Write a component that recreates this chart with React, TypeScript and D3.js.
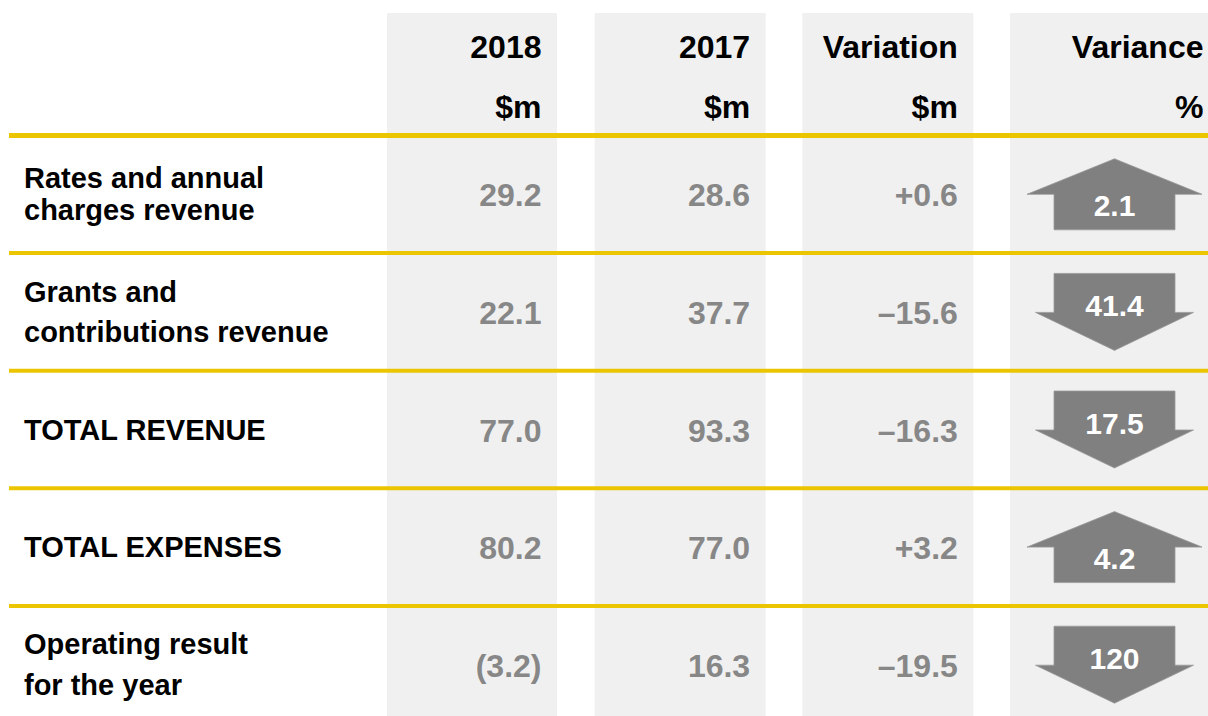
import React from "react";
import * as d3 from "d3";

const headerTop = ["2018", "2017", "Variation", "Variance"];
const headerUnit = ["$m", "$m", "$m", "%"];
const rowLabels = [
  ["Rates and annual", "charges revenue"],
  ["Grants and", "contributions revenue"],
  ["TOTAL REVENUE"],
  ["TOTAL EXPENSES"],
  ["Operating result", "for the year"],
];
const values2018 = [29.2, 22.1, 77.0, 80.2, -3.2];
const values2017 = [28.6, 37.7, 93.3, 77.0, 16.3];
const variation = [0.6, -15.6, -16.3, 3.2, -19.5];
const variancePct = [2.1, -41.4, -17.5, 4.2, -120];

// layout constants
const W = 1208;
const H = 716;
const labelLineGap = [32, 40, 0, 0, 41];
const YELLOW = "#ebc500";
const GRAY_BG = "#f0f0f0";
const VALUE_GRAY = "#878787";
const ARROW_GRAY = "#808080";
const FONT = "'Liberation Sans', Arial, Helvetica, sans-serif";

const fmt1 = d3.format(".1f");
const fmtPlain = (v: number) => (v < 0 ? `(${fmt1(-v)})` : fmt1(v));
const fmtSigned = (v: number) => (v < 0 ? `\u2013${fmt1(-v)}` : `+${fmt1(v)}`);
const fmtPct = (v: number) => (Math.abs(v) >= 100 ? d3.format(".0f")(Math.abs(v)) : fmt1(Math.abs(v)));

export default function App() {
  const colIdx = d3.range(4);
  const colX = d3.scaleLinear().domain([0, 3]).range([387, 1010]);
  const colW = [170, 171, 171, 209];

  const rowIdx = d3.range(rowLabels.length);
  const y = d3.scaleLinear().domain([0, rowLabels.length]).range([135.5, 135.5 + 117.6 * rowLabels.length]);

  const columns: ((i: number) => string)[] = [
    (i) => fmtPlain(values2018[i]),
    (i) => fmtPlain(values2017[i]),
    (i) => fmtSigned(variation[i]),
  ];

  const arrowPath = (cx: number, cy: number, up: boolean) => {
    const p = d3.path();
    if (up) {
      p.moveTo(cx, cy - 35.5);
      p.lineTo(cx + 87.5, cy);
      p.lineTo(cx + 60.5, cy);
      p.lineTo(cx + 60.5, cy + 35.5);
      p.lineTo(cx - 60.5, cy + 35.5);
      p.lineTo(cx - 60.5, cy);
      p.lineTo(cx - 87.5, cy);
    } else {
      p.moveTo(cx - 60.5, cy - 38.5);
      p.lineTo(cx + 60.5, cy - 38.5);
      p.lineTo(cx + 60.5, cy + 0.5);
      p.lineTo(cx + 79, cy + 0.5);
      p.lineTo(cx, cy + 38.5);
      p.lineTo(cx - 79, cy + 0.5);
      p.lineTo(cx - 60.5, cy + 0.5);
    }
    p.closePath();
    return p.toString();
  };

  return (
    <svg
      width={W}
      height={H}
      style={{ position: "absolute", left: 0, top: 0, display: "block", background: "#fff" }}
      fontFamily={FONT}
      fontWeight="bold"
    >
      {colIdx.map((c) => (
        <rect key={"bg" + c} x={colX(c)} y={13} width={colW[c]} height={H - 13} fill={GRAY_BG} />
      ))}

      {colIdx.map((c) => (
        <g key={"h" + c} fontSize={32} fill="#000" textAnchor="end">
          <text x={colX(c) + colW[c] - 15.5} y={58}>{headerTop[c]}</text>
          <text x={colX(c) + colW[c] - 15.5} y={118}>{headerUnit[c]}</text>
        </g>
      ))}

      {d3.range(rowLabels.length + 1).map((r) => (
        <line
          key={"l" + r}
          x1={9}
          x2={W}
          y1={y(r)}
          y2={y(r)}
          stroke={YELLOW}
          strokeWidth={r === 0 ? 5 : 4}
        />
      ))}

      {rowIdx.map((r) => {
        const cy = (y(r) + y(r + 1)) / 2;
        const lines = rowLabels[r];
        const gap = labelLineGap[r];
        const mid = cy + 10;
        const up = variancePct[r] > 0;
        const cx = colX(3) + colW[3] / 2;
        return (
          <g key={"r" + r}>
            {lines.map((t, k) => (
              <text
                key={k}
                x={24}
                y={lines.length === 1 ? mid : mid - gap / 2 + k * gap}
                fontSize={29}
                fill="#000"
              >
                {t}
              </text>
            ))}
            {columns.map((f, c) => (
              <text
                key={"v" + c}
                x={colX(c) + colW[c] - 15.5}
                y={cy + 12}
                fontSize={32}
                fill={VALUE_GRAY}
                textAnchor="end"
              >
                {f(r)}
              </text>
            ))}
            <path d={arrowPath(cx, cy, up)} fill={ARROW_GRAY} stroke="#9a9a9a" strokeWidth={0.8} />
            <text
              x={cx}
              y={up ? cy + 22 : cy + 4}
              fontSize={30}
              fill="#fff"
              textAnchor="middle"
            >
              {fmtPct(variancePct[r])}
            </text>
          </g>
        );
      })}
    </svg>
  );
}
